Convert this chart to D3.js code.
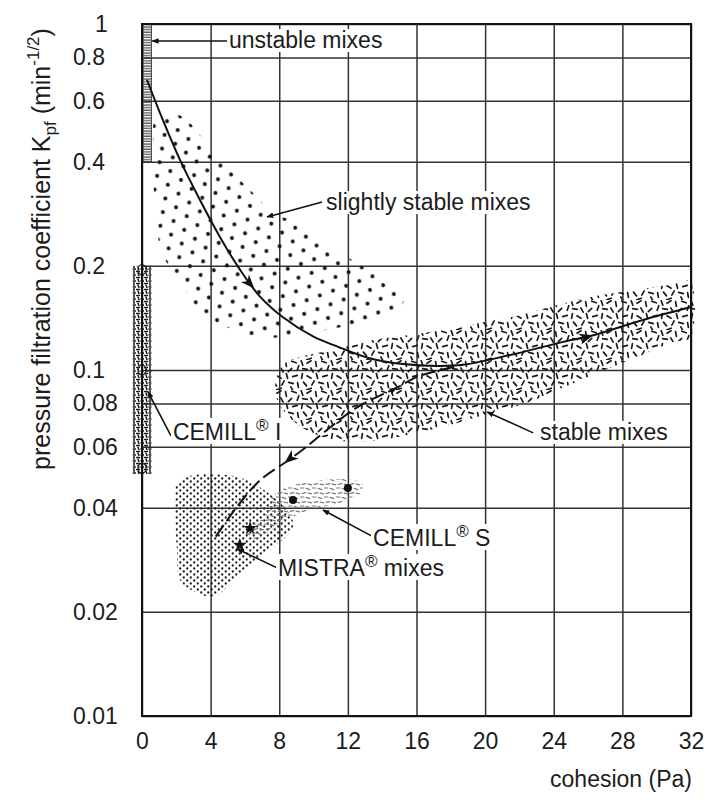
<!DOCTYPE html>
<html>
<head>
<meta charset="utf-8">
<script src="https://cdn.jsdelivr.net/npm/d3@7"></script>
<style>
  body { margin: 0; background: #fff; }
  text { font-family: "Liberation Sans", Arial, sans-serif; fill: #1c1c1c; }
</style>
</head>
<body>
<div id="chart"></div>
<script>
// axis ticks
const xTicks = [0, 4, 8, 12, 16, 20, 24, 28, 32];
const yTicks = [0.01, 0.02, 0.04, 0.06, 0.08, 0.1, 0.2, 0.4, 0.6, 0.8, 1];
const yTickLabels = ["0.01", "0.02", "0.04", "0.06", "0.08", "0.1", "0.2", "0.4", "0.6", "0.8", "1"];

// curves [cohesion, Kpf]
const mainCurve = [[0.29, 0.69], [1.05, 0.553], [2.22, 0.404], [3.38, 0.31], [4.55, 0.242], [5.71, 0.195],
  [6.88, 0.163], [8.22, 0.142], [9.97, 0.125], [11.37, 0.117], [13.29, 0.108], [15.22, 0.104],
  [17.2, 0.1027], [18.7, 0.1035], [21.46, 0.1105], [24.37, 0.12], [26.3, 0.126], [29.2, 0.1395], [32, 0.152]];
const dashedCurve = [[4.3, 0.033], [5.5, 0.040], [6.88, 0.048], [8.45, 0.0545], [9.5, 0.0595], [10.55, 0.0657],
  [12.54, 0.078], [14.87, 0.089], [16.03, 0.0955], [17.78, 0.101], [18.7, 0.1035]];

// regions (outlines) [cohesion, Kpf]
const slightlyStable = [[0.76, 0.528], [1.46, 0.553], [2.39, 0.538], [3.79, 0.453], [4.55, 0.413], [5.54, 0.361],
  [6.71, 0.316], [7.64, 0.284], [9.21, 0.266], [10.79, 0.233], [11.95, 0.212], [13.47, 0.191], [15.04, 0.167],
  [15.22, 0.156], [14.2, 0.142], [11.55, 0.133], [9.21, 0.127], [7.06, 0.124], [4.96, 0.133], [3.38, 0.146],
  [2.8, 0.163], [2.04, 0.182], [1.05, 0.227], [0.87, 0.284], [0.64, 0.354], [0.64, 0.441]];
const stableMixes = [[7.76, 0.0905], [8.22, 0.1034], [9.21, 0.109], [11.14, 0.1143], [13.47, 0.122], [15.45, 0.126],
  [17.38, 0.13], [20.12, 0.138], [22.04, 0.144], [24.2, 0.154], [26.3, 0.163], [28.63, 0.17], [30.96, 0.177],
  [31.95, 0.18], [31.95, 0.124], [30.96, 0.1205], [29.04, 0.11], [26.7, 0.0987], [24.2, 0.0875], [22.45, 0.0803],
  [20.29, 0.0751], [18.37, 0.0703], [16.03, 0.0658], [13.88, 0.0628], [11.55, 0.0623], [9.8, 0.0662],
  [8.63, 0.0727], [7.93, 0.0808]];
const mistraMixes = [[2.04, 0.0471], [2.97, 0.0497], [4.96, 0.0497], [6.47, 0.0471], [8.45, 0.0394], [8.8, 0.0352],
  [7.46, 0.0302], [6.47, 0.0277], [5.54, 0.0252], [4.96, 0.0236], [4.14, 0.0221], [3.21, 0.0227], [2.22, 0.0247],
  [2.04, 0.0302], [1.92, 0.0376], [1.92, 0.0441]];
const cemillS = [[7.6, 0.043], [8.45, 0.0459], [9.8, 0.0475], [11.7, 0.0484], [12.8, 0.0471], [12.8, 0.0444],
  [11.55, 0.0413], [9.8, 0.0394], [8.05, 0.0361], [6.6, 0.0323], [6.0, 0.034], [7.2, 0.038]];
const cemillIStrip = [[-0.55, 0.2], [0.55, 0.05]];
const cemillIMarks = [0.195, 0.1, 0.052];
const unstableStrip = [[0.06, 1], [0.55, 0.4]];

// measured points
const cemillSPoints = [[8.8, 0.0421], [12.0, 0.0456]];
const mistraPoints = [[6.3, 0.0349], [5.7, 0.0312]];

// direction arrows on curves: [at, toward]
const curveArrows = [
  [[6.55, 0.172], [7.4, 0.155]],
  [[26.3, 0.126], [27.5, 0.131]],
  [[8.3, 0.0538], [7.3, 0.049]],
  [[14.87, 0.089], [15.8, 0.0945]]
];

// labels and leader lines
const labelText = ["unstable mixes", "slightly stable mixes", "stable mixes", "CEMILL® I", "CEMILL® S", "MISTRA® mixes"];
const labelPos = [[5.07, 0.852], [10.73, 0.29], [23.2, 0.0628], [1.8, 0.0628], [13.47, 0.031], [7.93, 0.0254]];
const leaders = [
  [[4.96, 0.893], [0.6, 0.893]],
  [[10.5, 0.306], [7.29, 0.277]],
  [[22.8, 0.0658], [20.12, 0.0756]],
  [[1.69, 0.0645], [0.35, 0.0864]],
  [[13.4, 0.0331], [10.55, 0.0394]],
  [[7.87, 0.0268], [5.54, 0.0304]]
];

const W = 712, H = 803;
const margin = { top: 24, right: 21, bottom: 87, left: 142 };

const svg = d3.select("#chart").append("svg").attr("width", W).attr("height", H);

const x = d3.scaleLinear().domain([0, 32]).range([margin.left, W - margin.right]);
const y = d3.scaleLog().domain([0.01, 1]).range([H - margin.bottom, margin.top]);

const defs = svg.append("defs");

function dashPattern(id, w, h, dashes, len, sw, color) {
  const p = defs.append("pattern").attr("id", id)
    .attr("patternUnits", "userSpaceOnUse").attr("width", w).attr("height", h);
  dashes.forEach(([cx, cy, a]) => {
    const r = a * Math.PI / 180, dx = Math.cos(r) * len / 2, dy = Math.sin(r) * len / 2;
    p.append("line").attr("x1", cx - dx).attr("y1", cy - dy).attr("x2", cx + dx).attr("y2", cy + dy)
      .attr("stroke", color).attr("stroke-width", sw).attr("stroke-linecap", "round");
  });
  return p;
}

// big dots
const pBig = defs.append("pattern").attr("id", "bigdots").attr("patternUnits", "userSpaceOnUse")
  .attr("width", 14).attr("height", 24).attr("patternTransform", "rotate(-20)");
pBig.append("circle").attr("cx", 3.5).attr("cy", 3).attr("r", 2).attr("fill", "#111");
pBig.append("circle").attr("cx", 10.5).attr("cy", 15).attr("r", 2).attr("fill", "#111");

// fine dots
const pFine = defs.append("pattern").attr("id", "finedots").attr("patternUnits", "userSpaceOnUse")
  .attr("width", 7).attr("height", 6);
pFine.append("circle").attr("cx", 1.75).attr("cy", 1.5).attr("r", 1.15).attr("fill", "#1a1a1a");
pFine.append("circle").attr("cx", 5.25).attr("cy", 4.5).attr("r", 1.15).attr("fill", "#1a1a1a");

dashPattern("dashes", 30, 30, [[2, 3, 70], [9, 2, -30], [16, 4, 80], [24, 2, 20], [28, 8, -70], [5, 9, 10],
  [12, 10, 60], [20, 10, -45], [2, 16, -80], [9, 17, 30], [17, 16, 75], [25, 16, -15], [5, 24, 50],
  [13, 23, -60], [21, 23, 15], [28, 25, 80], [9, 29, -20], [22, 29, 60]], 4.8, 1.7, "#1a1a1a");
dashPattern("lightdashes", 12, 9, [[2, 2, 0], [8, 3, 20], [4, 7, -10], [10, 7.5, 10]], 3.8, 1.2, "#7a7a7a");
dashPattern("scribble", 8, 6, [[2, 1.5, 0], [6, 2, 90], [2.5, 4.5, 70], [6.5, 5, 0]], 3, 1.5, "#1a1a1a");

const hatch = defs.append("pattern").attr("id", "hatch").attr("patternUnits", "userSpaceOnUse")
  .attr("width", 4).attr("height", 2.6);
hatch.append("line").attr("x1", 0).attr("x2", 4).attr("y1", 1).attr("y2", 1)
  .attr("stroke", "#333").attr("stroke-width", 1.1);

defs.append("marker").attr("id", "lead").attr("viewBox", "0 -5 10 10").attr("refX", 9).attr("refY", 0)
  .attr("markerWidth", 7).attr("markerHeight", 7).attr("markerUnits", "userSpaceOnUse").attr("orient", "auto")
  .append("path").attr("d", "M0,-4L10,0L0,4Z").attr("fill", "#111");

// gridlines
svg.append("g")
  .attr("transform", `translate(0,${y(0.01)})`)
  .call(d3.axisBottom(x).tickValues(xTicks).tickSize(-(y(0.01) - y(1))).tickFormat(""))
  .call(g => g.select(".domain").remove())
  .call(g => g.selectAll("line").attr("stroke", "#333").attr("stroke-width", 1.5));

svg.append("g")
  .attr("transform", `translate(${x(0)},0)`)
  .call(d3.axisLeft(y).tickValues(yTicks).tickSize(-(x(32) - x(0))).tickFormat(""))
  .call(g => g.select(".domain").remove())
  .call(g => g.selectAll("line").attr("stroke", "#333").attr("stroke-width", 1.5));

// regions
const blob = d3.line().x(d => x(d[0])).y(d => y(d[1])).curve(d3.curveCatmullRomClosed.alpha(0.5));

svg.append("path").attr("d", blob(slightlyStable)).attr("fill", "url(#bigdots)");
svg.append("path").attr("d", blob(stableMixes)).attr("fill", "url(#dashes)");
svg.append("path").attr("d", blob(mistraMixes)).attr("fill", "url(#finedots)");
svg.append("path").attr("d", blob(cemillS)).attr("fill", "url(#lightdashes)");

svg.append("rect")
  .attr("x", x(cemillIStrip[0][0])).attr("y", y(cemillIStrip[0][1]))
  .attr("width", x(cemillIStrip[1][0]) - x(cemillIStrip[0][0]))
  .attr("height", y(cemillIStrip[1][1]) - y(cemillIStrip[0][1]))
  .attr("fill", "url(#scribble)");
svg.selectAll(".cimark").data(cemillIMarks).join("ellipse")
  .attr("cx", x(0)).attr("cy", d => y(d)).attr("rx", 4).attr("ry", 5)
  .attr("fill", "none").attr("stroke", "#222").attr("stroke-width", 1.3);

svg.append("rect")
  .attr("x", x(unstableStrip[0][0])).attr("y", y(unstableStrip[0][1]))
  .attr("width", x(unstableStrip[1][0]) - x(unstableStrip[0][0]))
  .attr("height", y(unstableStrip[1][1]) - y(unstableStrip[0][1]))
  .attr("fill", "url(#hatch)").attr("stroke", "#444").attr("stroke-width", 1);

// curves
const line = d3.line().x(d => x(d[0])).y(d => y(d[1])).curve(d3.curveCatmullRom.alpha(0.5));

svg.append("path").datum(mainCurve).attr("d", line)
  .attr("fill", "none").attr("stroke", "#111").attr("stroke-width", 2);
svg.append("path").datum(dashedCurve).attr("d", line)
  .attr("fill", "none").attr("stroke", "#111").attr("stroke-width", 2).attr("stroke-dasharray", "14,5");

curveArrows.forEach(([a, b], i) => {
  const ang = Math.atan2(y(b[1]) - y(a[1]), x(b[0]) - x(a[0])) * 180 / Math.PI;
  const s = i === 3 ? 0.6 : 1;
  svg.append("path")
    .attr("d", "M0,0L-14,-5.5L-10,0L-14,5.5Z")
    .attr("transform", `translate(${x(a[0])},${y(a[1])}) rotate(${ang}) scale(${s})`)
    .attr("fill", "#111");
});

// points
svg.selectAll(".cs").data(cemillSPoints).join("circle")
  .attr("cx", d => x(d[0])).attr("cy", d => y(d[1])).attr("r", 4).attr("fill", "#111");
svg.selectAll(".mp").data(mistraPoints).join("path")
  .attr("d", d3.symbol(d3.symbolStar, 60))
  .attr("transform", d => `translate(${x(d[0])},${y(d[1])})`).attr("fill", "#111");

// leaders
svg.selectAll(".lead").data(leaders).join("line")
  .attr("x1", d => x(d[0][0])).attr("y1", d => y(d[0][1]))
  .attr("x2", d => x(d[1][0])).attr("y2", d => y(d[1][1]))
  .attr("stroke", "#111").attr("stroke-width", 1.6).attr("marker-end", "url(#lead)");

// labels
labelText.forEach((t, i) => {
  const g = svg.append("g");
  const txt = g.append("text").attr("x", x(labelPos[i][0])).attr("y", y(labelPos[i][1])).attr("font-size", 23);
  const parts = t.split("®");
  txt.append("tspan").text(parts[0]);
  if (parts.length > 1) {
    txt.append("tspan").attr("font-size", 17).attr("dy", -9).text("®");
    txt.append("tspan").attr("dy", 9).text(parts[1].startsWith(" ") ? parts[1] : "\u2009" + parts[1]);
  }
  const bb = txt.node().getBBox();
  g.insert("rect", "text").attr("x", bb.x - 2).attr("y", bb.y + 2).attr("width", bb.width + 4)
    .attr("height", bb.height - 3).attr("fill", "#fff");
});

// frame
svg.append("rect").attr("x", x(0)).attr("y", y(1)).attr("width", x(32) - x(0)).attr("height", y(0.01) - y(1))
  .attr("fill", "none").attr("stroke", "#111").attr("stroke-width", 2);

// tick labels
svg.append("g")
  .attr("transform", `translate(0,${y(0.01)})`)
  .call(d3.axisBottom(x).tickValues(xTicks).tickSize(0).tickPadding(17))
  .call(g => g.select(".domain").remove())
  .call(g => g.selectAll("text").attr("font-size", 23).attr("font-family", null));

svg.append("g")
  .attr("transform", `translate(${x(0)},0)`)
  .call(d3.axisLeft(y).tickValues(yTicks).tickSize(0).tickFormat((d, i) => yTickLabels[i]))
  .call(g => g.select(".domain").remove())
  .call(g => g.selectAll("text").attr("font-size", 23).attr("font-family", null)
    .attr("text-anchor", "start").attr("x", d => d === 1 ? -47 : -69));

// axis titles
svg.append("text").attr("x", x(32) + 1).attr("y", 787).attr("text-anchor", "end").attr("font-size", 23)
  .text("cohesion (Pa)");

const yt = svg.append("text").attr("transform", "translate(50,249) rotate(-90)")
  .attr("text-anchor", "middle").attr("font-size", 25);
yt.append("tspan").text("pressure filtration coefficient K");
yt.append("tspan").attr("font-size", 17).attr("dy", 6).text("pf");
yt.append("tspan").attr("dy", -6).text(" (min");
yt.append("tspan").attr("font-size", 17).attr("dy", -11).text("-1/2");
yt.append("tspan").attr("dy", 11).text(")");
</script>
</body>
</html>
